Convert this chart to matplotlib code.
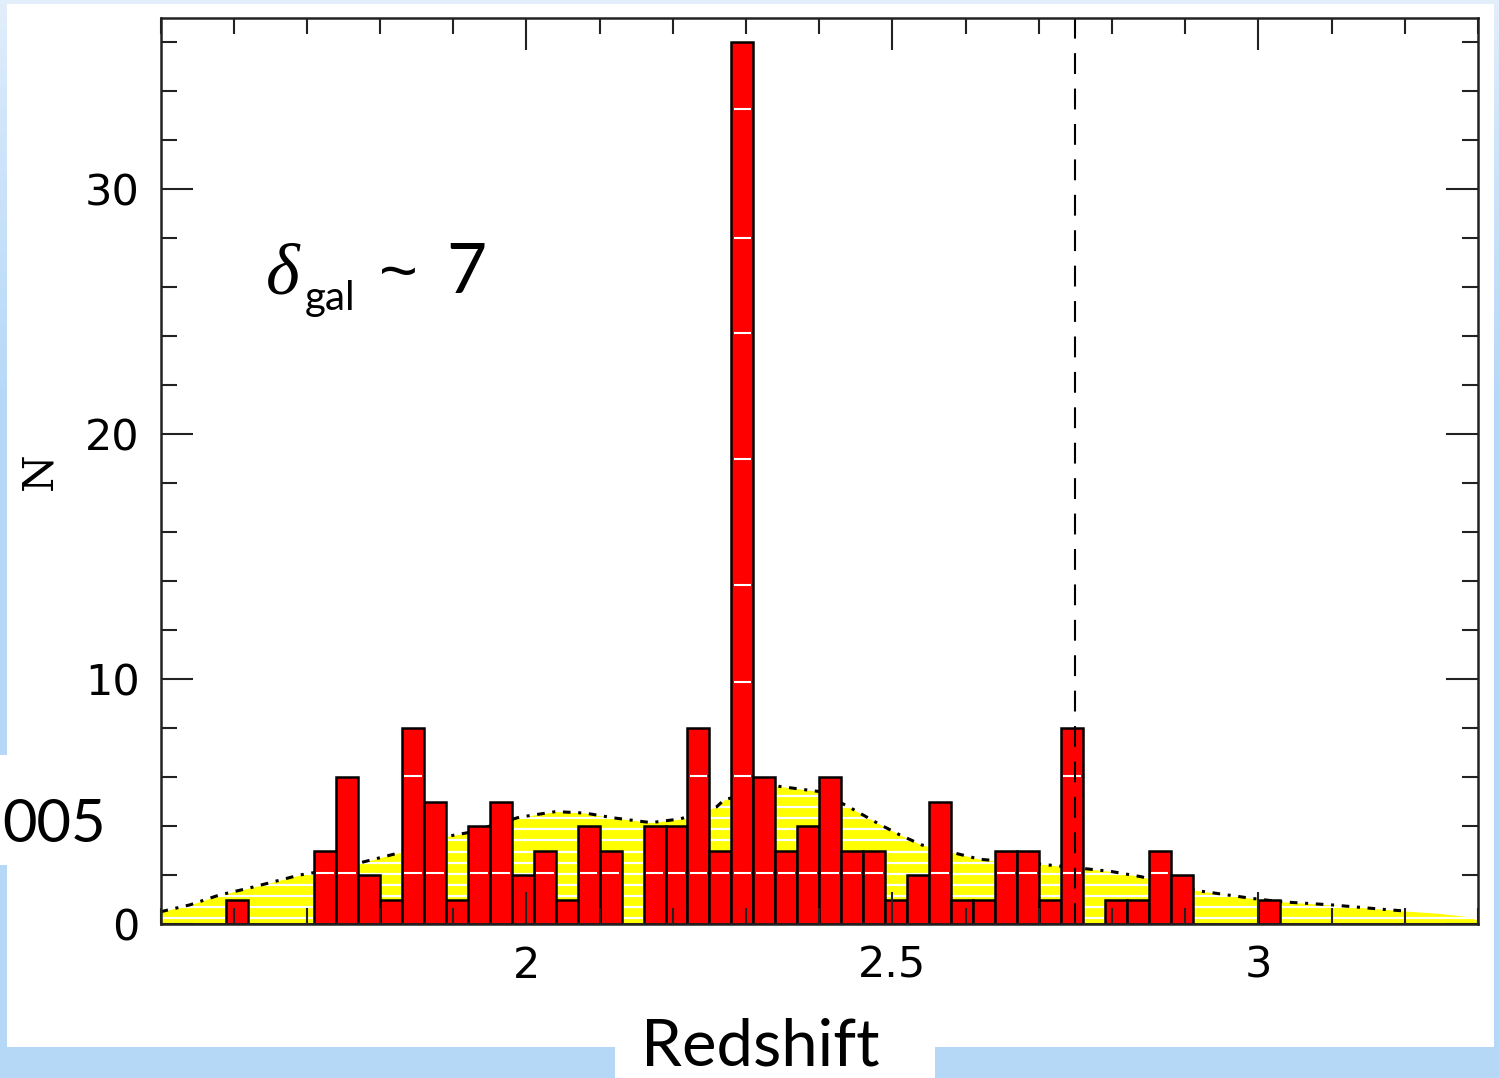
import numpy as np
import matplotlib.pyplot as plt
from matplotlib.patches import Rectangle
from matplotlib.colors import LinearSegmentedColormap
from matplotlib.ticker import MultipleLocator

W, H = 1499, 1078

# redshift histogram: bins of 0.03 starting at z = 1.5
z_start = 1.5
dz = 0.03
counts = [0, 0, 0, 1, 0, 0, 0, 3, 6, 2,
          1, 8, 5, 1, 4, 5, 2, 3, 1, 4,
          3, 0, 4, 4, 8, 3, 36, 6, 3, 4,
          6, 3, 3, 1, 2, 5, 1, 1, 3, 3,
          1, 8, 0, 1, 1, 3, 2, 0, 0, 0,
          1, 0, 0, 0, 0, 0, 0, 0, 0, 0]

# selection function (yellow curve)
z_sel = [1.50, 1.54, 1.58, 1.62, 1.65, 1.69, 1.71, 1.77, 1.82, 1.89,
         1.92, 1.99, 2.04, 2.08, 2.12, 2.17, 2.21, 2.26, 2.27, 2.34,
         2.40, 2.44, 2.48, 2.51, 2.54, 2.59, 2.62, 2.70, 2.76, 2.80,
         2.84, 2.91, 2.99, 3.03, 3.10, 3.17, 3.20, 3.24, 3.28, 3.30]
n_sel = [0.50, 0.78, 1.18, 1.46, 1.69, 2.00, 2.10, 2.48, 2.86, 3.57,
         3.73, 4.36, 4.59, 4.53, 4.33, 4.14, 4.29, 4.79, 5.07, 5.64,
         5.41, 4.79, 4.11, 3.64, 3.23, 2.86, 2.64, 2.45, 2.27, 2.14,
         1.93, 1.39, 1.05, 0.91, 0.78, 0.60, 0.53, 0.45, 0.33, 0.16]
z_dotted_end = 3.20

z_mark = 2.75
# white scan lines seen inside the red bars
bar_lines = [2.1, 6.05, 9.9, 13.85, 19.0, 24.15, 28.0, 33.3]

fig = plt.figure(figsize=(W / 100, H / 100), dpi=100)

# slide background
bg = fig.add_axes([0, 0, 1, 1], zorder=-10)
cmap = LinearSegmentedColormap.from_list(
    'bg', [(0, '#b5d8f7'), (0.62, '#b5d8f7'), (0.9, '#d2e6fa'), (1, '#e3eefb')])
bg.imshow(np.linspace(0, 1, 256).reshape(-1, 1), cmap=cmap, aspect='auto',
          origin='lower', extent=[0, 1, 0, 1])
bg.set_axis_off()


def white_box(x0, y0, x1, y1):
    fig.add_artist(Rectangle((x0 / W, 1 - y1 / H), (x1 - x0) / W, (y1 - y0) / H,
                             transform=fig.transFigure, color='white', lw=0, zorder=-5))


def px_text(x, y, s, **kw):
    # x, y in pixels from the top-left corner
    return fig.text(x / W, 1 - y / H, s, va='baseline', **kw)


white_box(7, 4, 1494, 1047)
white_box(615, 1000, 935, 1078)
white_box(0, 755, 112, 865)

ax = fig.add_axes([160.5 / W, (H - 924) / H, (1478 - 160.5) / W, (924 - 18) / H])

poly = ax.fill_between(z_sel, n_sel, color='#ffff00', lw=0, zorder=0.5)
stripes = ax.hlines(np.arange(0.23, 6.0, 0.455), z_sel[0], z_sel[-1],
                    colors='white', lw=1.6, zorder=0.6)
stripes.set_clip_path(poly.get_paths()[0], ax.transData)

z_arr = np.array(z_sel)
n_arr = np.array(n_sel)
keep = z_arr <= z_dotted_end
ax.plot(z_arr[keep], n_arr[keep], color='black', lw=2.2,
        ls=(0, (2.5, 2.5, 1, 2.5)), zorder=0.8)

lefts = z_start + dz * np.arange(len(counts))
cnt = np.array(counts)
ax.bar(lefts, cnt, width=dz, align='edge', color='#ff0000',
       edgecolor='black', lw=1.8, zorder=1)
for lvl in bar_lines:
    m = cnt > lvl + 0.3
    ax.hlines(np.full(m.sum(), lvl), lefts[m] + 0.003, lefts[m] + dz - 0.003,
              colors='white', lw=1.5, zorder=1.1)

ax.axvline(z_mark, color='black', lw=1.5, ls=(0, (10, 7)), zorder=2)

ax.set_xlim(1.5, 3.3)
ax.set_ylim(0, 37)
ax.set_axisbelow(False)
ax.xaxis.set_major_locator(MultipleLocator(0.5))
ax.xaxis.set_minor_locator(MultipleLocator(0.1))
ax.yaxis.set_major_locator(MultipleLocator(10))
ax.yaxis.set_minor_locator(MultipleLocator(2))
ax.set_xticks([2, 2.5, 3])
ax.set_xticklabels(['2', '2.5', '3'])
ax.tick_params(which='both', direction='in', top=True, right=True,
               width=1.5, color='#222222', labelsize=31, pad=15)
ax.tick_params(which='major', length=23)
ax.tick_params(which='minor', length=11.5)
for s in ax.spines.values():
    s.set_linewidth(1.8)
    s.set_color('#222222')

ax.set_ylabel('N', family='DejaVu Serif', fontsize=31)
ax.yaxis.set_label_coords((60 - 160.5) / 1317.5, 0.5)

# delta_gal ~ 7 annotation, built from pieces
px_text(266, 293, '\u03b4', family='Liberation Serif', style='italic', fontsize=52)
px_text(305, 310, 'gal', family='Lato', fontsize=29)
px_text(379, 293, '~', family='Liberation Sans', fontsize=48)
px_text(446, 293, '7', family='Lato', fontsize=50)

px_text(760, 1066, 'Redshift', family='Lato', fontsize=47, ha='center')
px_text(106, 842, '005', family='Lato', fontsize=43, ha='right')

fig.savefig('out.png', dpi=100)
